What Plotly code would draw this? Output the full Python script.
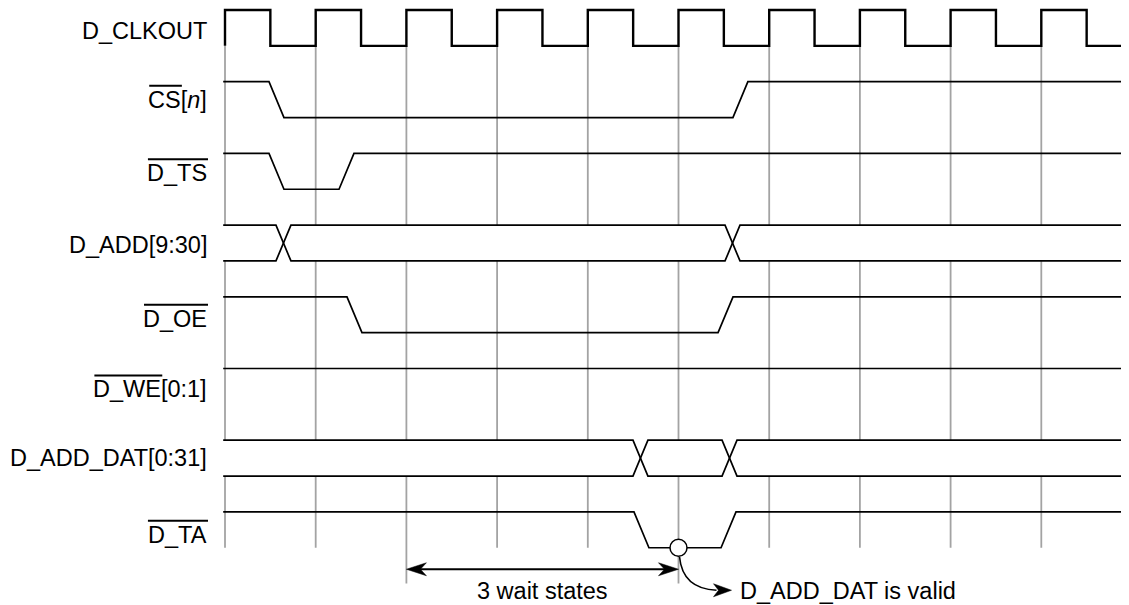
import plotly.graph_objects as go

# ------------------------------------------------------------------ data
LABELS = ["D_CLKOUT", "CS[<i>n</i>]", "D_TS", "D_ADD[9:30]", "D_OE",
          "D_WE[0:1]", "D_ADD_DAT[0:31]", "D_TA"]
OVERLINED_PART = ["", "CS", "D_TS", "", "D_OE", "D_WE", "", "D_TA"]
LABEL_TAIL = ["", "[n]", "", "", "", "[0:1]", "", ""]
SIGNAL_KIND = ["clock", "level", "level", "bus", "level", "level", "bus", "level"]

CLOCK_RISES = [0, 1, 2, 3, 4, 5, 6, 7, 8, 9]   # clock cycles
CLOCK_HIGH = 0.5                                # duty fraction
CS_EDGES = [0.485, 5.600]
TS_EDGES = [0.485, 1.257]
ADD_CROSSINGS = [0.562, 5.513]
OE_EDGES = [1.345, 5.436]
WE_EDGES = []
ADD_DAT_CROSSINGS = [4.498, 5.480]
TA_EDGES = [4.509, 5.469]
SIGNAL_EVENTS = [CLOCK_RISES, CS_EDGES, TS_EDGES, ADD_CROSSINGS, OE_EDGES,
                 WE_EDGES, ADD_DAT_CROSSINGS, TA_EDGES]
EDGE_WIDTH = 0.165
T_START, T_END = -0.02, 9.97

WAIT_FROM, WAIT_TO = 2, 5
VALID_AT = 5
WAIT_TEXT = "3 wait states"
VALID_TEXT = "D_ADD_DAT is valid"

# ------------------------------------------------------------------ layout constants
SCREEN_W, SCREEN_H = 1129, 605
PAGE_MARGIN = 8                  # default body margin of the html page
W, H = SCREEN_W - PAGE_MARGIN, SCREEN_H - PAGE_MARGIN
PX_T = 90.7        # pixels per clock cycle
PX_ROW = 71.7      # pixels per signal row
X0_PX = 225        # screen pixel of t = 0
Y0_PX = 10         # screen pixel of row 0 top
FONT = "Arial, Liberation Sans, Helvetica, sans-serif"
FS = 23.5
LABEL_RIGHT_PX = 208
LABEL_DY_PX = [3, 0, 2, 2, 4, 3, 0, 5]
GRID_COLOR = "#a3a3a3"

def dx(px):
    return px / PX_T

def dy(px):
    return px / PX_ROW

xr = [(PAGE_MARGIN - X0_PX) / PX_T, (SCREEN_W - X0_PX) / PX_T]
yr = [(SCREEN_H - Y0_PX) / PX_ROW, (PAGE_MARGIN - Y0_PX) / PX_ROW]

fig = go.Figure()

# grid lines at rising clock edges
gx, gy = [], []
for t in CLOCK_RISES:
    bottom = 8.0 if t in (WAIT_FROM, VALID_AT) else 7.5
    gx += [t, t, None]
    gy += [0.5, bottom, None]
fig.add_trace(go.Scatter(x=gx, y=gy, mode="lines", hoverinfo="skip",
                         line=dict(color=GRID_COLOR, width=1.8), showlegend=False))

def add_line(xs, ys, width=1.5):
    fig.add_trace(go.Scatter(x=xs, y=ys, mode="lines", hoverinfo="skip",
                             line=dict(color="black", width=width), showlegend=False))

for i, kind in enumerate(SIGNAL_KIND):
    top, low, mid = i, i + 0.5, i + 0.25
    ev = SIGNAL_EVENTS[i]
    if kind == "clock":
        xs, ys = [], []
        for r in ev:
            xs += [r, r, r + CLOCK_HIGH, r + CLOCK_HIGH]
            ys += [low, top, top, low]
        xs.append(T_END)
        ys.append(low)
        add_line(xs, ys, 2.4)
    elif kind == "level":
        xs, ys = [T_START], [top]
        cur = top
        for e in ev:
            nxt = low if cur == top else top
            xs += [e, e + EDGE_WIDTH]
            ys += [cur, nxt]
            cur = nxt
        xs.append(T_END)
        ys.append(cur)
        add_line(xs, ys, 1.7)
    else:
        # white fills between crossings (hide grid inside the bus)
        bounds = [T_START] + ev + [T_END]
        for a, b in zip(bounds[:-1], bounds[1:]):
            a_cross = a in ev
            b_cross = b in ev
            px, py = [], []
            if a_cross:
                px += [a + EDGE_WIDTH / 2, a + EDGE_WIDTH]
                py += [mid, top]
            else:
                px += [a]
                py += [top]
            if b_cross:
                px += [b, b + EDGE_WIDTH / 2, b]
                py += [top, mid, low]
            else:
                px += [b, b]
                py += [top, low]
            if a_cross:
                px += [a + EDGE_WIDTH]
                py += [low]
            else:
                px += [a]
                py += [low]
            fig.add_trace(go.Scatter(x=px, y=py, mode="lines", fill="toself",
                                     fillcolor="white", hoverinfo="skip",
                                     line=dict(color="rgba(0,0,0,0)", width=0),
                                     showlegend=False))
        for start in (top, low):
            xs, ys = [T_START], [start]
            cur = start
            for c in ev:
                nxt = low if cur == top else top
                xs += [c, c + EDGE_WIDTH]
                ys += [cur, nxt]
                cur = nxt
            xs.append(T_END)
            ys.append(cur)
            add_line(xs, ys, 1.7)

# ------------------------------------------------------------------ labels with overlines
ARIAL_W = {"D": 722, "_": 556, "C": 722, "L": 556, "K": 667, "O": 778, "U": 722,
           "T": 611, "S": 667, "A": 667, "E": 667, "W": 944, "[": 278, "]": 278,
           "n": 556, ":": 278}
for d in "0123456789":
    ARIAL_W[d] = 556

def text_w(s):
    return sum(ARIAL_W.get(ch, 556) for ch in s) * FS / 1000.0

label_x = (LABEL_RIGHT_PX - X0_PX) / PX_T
shapes = []
annotations = []
for i, lab in enumerate(LABELS):
    yc = i + 0.25 + dy(LABEL_DY_PX[i])
    annotations.append(dict(x=label_x, y=yc, xref="x", yref="y", text=lab,
                            showarrow=False, xanchor="right", yanchor="middle",
                            borderpad=0, font=dict(family=FONT, size=FS, color="black")))
    if OVERLINED_PART[i]:
        tail = text_w(LABEL_TAIL[i])
        pre = text_w(OVERLINED_PART[i])
        x1 = label_x - dx(tail)
        x0 = x1 - dx(pre)
        oy = yc - dy(14)
        shapes.append(dict(type="line", xref="x", yref="y", x0=x0, x1=x1, y0=oy, y1=oy,
                           line=dict(color="black", width=2)))

# ------------------------------------------------------------------ wait-state arrow
def head(tip_x, tip_y, direction, L, Hh, notch):
    bx = tip_x - direction * dx(L)
    nx = tip_x - direction * dx(L - notch)
    return (f"M {tip_x},{tip_y} L {bx},{tip_y - dy(Hh / 2)} "
            f"L {nx},{tip_y} L {bx},{tip_y + dy(Hh / 2)} Z")

arrow_y = 7.5 + dy(21.5)
add_line([WAIT_FROM + dx(6), WAIT_TO - dx(6)], [arrow_y, arrow_y], 2.2)
for tip, d in ((WAIT_FROM, -1), (WAIT_TO, 1)):
    shapes.append(dict(type="path", xref="x", yref="y", path=head(tip, arrow_y, d, 20, 13, 6),
                       fillcolor="black", line=dict(color="black", width=0.5)))

annotations.append(dict(x=(WAIT_FROM + WAIT_TO) / 2, y=7.5 + dy(43), xref="x", yref="y",
                        text=WAIT_TEXT, showarrow=False, xanchor="center", yanchor="middle",
                        borderpad=0, font=dict(family=FONT, size=FS, color="black")))

# ------------------------------------------------------------------ valid marker and curved arrow
c_start_x, c_start_y = VALID_AT + dx(1), 7.5 + dy(9)
c_ctrl_x, c_ctrl_y = VALID_AT + dx(4), 7.5 + dy(41)
c_end_x, c_end_y = VALID_AT + dx(38), 7.5 + dy(42.5)
shapes.append(dict(type="path", xref="x", yref="y",
                   path=f"M {c_start_x},{c_start_y} Q {c_ctrl_x},{c_ctrl_y} {c_end_x},{c_end_y}",
                   line=dict(color="black", width=1.6)))
shapes.append(dict(type="path", xref="x", yref="y",
                   path=head(c_end_x + dx(15), c_end_y, 1, 18, 13, 5),
                   fillcolor="black", line=dict(color="black", width=0.5)))

fig.add_trace(go.Scatter(x=[VALID_AT], y=[7.5], mode="markers", hoverinfo="skip",
                         marker=dict(size=17, color="white", symbol="circle",
                                     line=dict(color="black", width=1.5)),
                         showlegend=False))

annotations.append(dict(x=VALID_AT + dx(60), y=7.5 + dy(43), xref="x", yref="y",
                        text=VALID_TEXT, showarrow=False, xanchor="left", yanchor="middle",
                        borderpad=0, font=dict(family=FONT, size=FS, color="black")))

fig.update_layout(
    width=W, height=H,
    margin=dict(l=0, r=0, t=0, b=0),
    paper_bgcolor="white", plot_bgcolor="white",
    xaxis=dict(range=xr, visible=False, fixedrange=True),
    yaxis=dict(range=yr, visible=False, fixedrange=True),
    shapes=shapes, annotations=annotations, showlegend=False,
)

fig.write_html("out.html")
